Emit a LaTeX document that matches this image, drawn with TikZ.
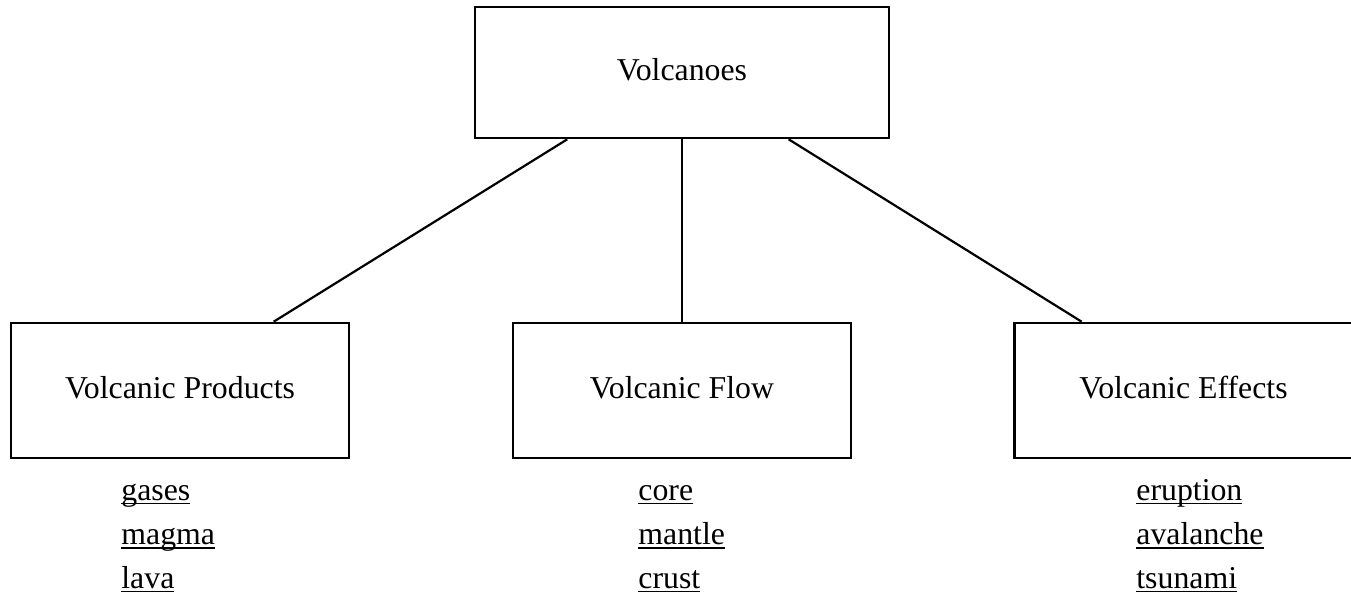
\documentclass[tikz,border=0pt]{standalone}
\usepackage{fontspec}
\setmainfont{Liberation Serif}
\newsavebox{\myulbox}
\newcommand{\myul}[1]{\sbox{\myulbox}{#1}\rlap{\rule[-2pt]{\wd\myulbox}{0.6pt}}\usebox{\myulbox}}
\usetikzlibrary{calc}
\begin{document}
\begin{tikzpicture}[x=0.5pt,y=-0.5pt,
  box/.style={draw, line width=1.3pt, rectangle, inner sep=0pt,
    font=\fontsize{15.9pt}{18pt}\selectfont, text height=11pt, text depth=3.5pt},
  item/.style={anchor=base west, inner sep=0pt, font=\fontsize{15.9pt}{18pt}\selectfont},
  conn/.style={line width=1.1pt}]
\useasboundingbox (0,0) rectangle (1351,596);
\node[box, minimum width=207pt, minimum height=65.5pt] (top) at (682,72.5) {Volcanoes};
\node[box, minimum width=169pt, minimum height=67.5pt] (prod) at (180,390.5) {Volcanic Products};
\node[box, minimum width=169pt, minimum height=67.5pt] (flow) at (682,390.5) {Volcanic Flow};
\node[box, minimum width=169pt, minimum height=67.5pt] (eff) at (1183.5,390.5) {Volcanic Effects};
\draw[conn] ($(top.south west)!0.2246!(top.south east)$) -- ($(prod.north west)!0.775!(prod.north east)$);
\draw[conn] (top.south) -- (flow.north);
\draw[conn] ($(top.south west)!0.756!(top.south east)$) -- ($(eff.north west)!0.201!(eff.north east)$);
\node[item] (p1) at (121,500) {\myul{gases}};
\node[item] (p2) at (121,544.5) {\myul{magma}};
\node[item] (p3) at (121,588) {\myul{lava}};
\node[item] (f1) at (638,500) {\myul{core}};
\node[item] (f2) at (638,544.5) {\myul{mantle}};
\node[item] (f3) at (638,588) {\myul{crust}};
\node[item] (e1) at (1136,500) {\myul{eruption}};
\node[item] (e2) at (1136,544.5) {\myul{avalanche}};
\node[item] (e3) at (1136,588) {\myul{tsunami}};
\end{tikzpicture}
\end{document}
